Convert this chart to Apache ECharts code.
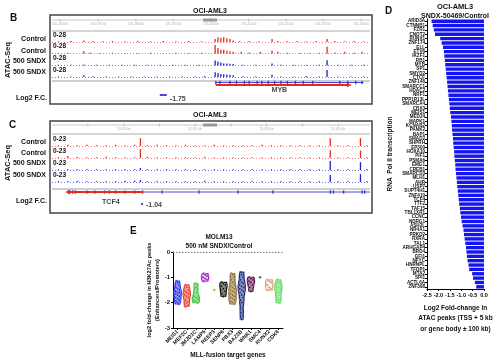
<!DOCTYPE html>
<html><head><meta charset="utf-8">
<script src="https://cdn.jsdelivr.net/npm/echarts@6/dist/echarts.min.js"></script>
<style>html,body{margin:0;padding:0;background:#fff}#c{width:497px;height:360px}</style>
</head><body><div id="c"></div>
<script>
// ================= DATA =================
// Panel B – MYB locus (x = % of browser window, y = signal on 0-28 scale)
const titleB = 'OCI-AML3';
const trackNamesB = ['Control', 'Control', '500 SNDX', '500 SNDX'];
const rangeB = 28;
const rulerPosB = [2.5, 14.5, 26.4, 38.1, 50, 61.9, 73.6, 85.2, 97.2];
const rulerLabB = ['135,160 kb', '135,170 kb', '135,180 kb', '135,190 kb', '135,200 kb', '135,210 kb', '135,220 kb', '135,230 kb', '135,240 kb'];
const ctrl1B = [[2,2],[6,3],[10,5],[13,3],[16,2],[19,3],[23,2],[27,3],[31,2],[35,3],[39,2],[43,3],[47,2],[51.3,9],[52.2,15],[53.1,13],[54,15],[55,12],[56,9],[57,5],[59,3],[62,3],[65,2],[69.2,9],[71,3],[74,2],[77,3],[80,2],[83,3],[86.5,9],[89,3],[92,2],[95,3],[98,2]];
const ctrl2B = [[2,2],[5,3],[10,8],[12,4],[15,2],[19,3],[23,2],[27,2],[31,3],[35,2],[39,3],[43,2],[47,3],[51.3,27],[52.2,18],[53.1,12],[54,12],[55,9],[56,8],[57,6],[59.5,6],[62,4],[65.5,6],[69.2,9],[71,6],[74,3],[78,3],[81,2],[84,3],[86.5,22],[89,4],[92,6],[95,3],[97.5,6]];
const sndx1B = [[2,2],[6,2],[10,3],[14,2],[18,2],[22,2],[26,2],[30,2],[34,2],[38,2],[42,2],[46,2],[51.3,15],[52.2,12],[53.1,9],[54,6],[55,6],[56,5],[57,4],[60,2],[64,2],[69.2,6],[72,2],[76,2],[80,2],[84,2],[86.5,16],[90,2],[94,2],[98,2]];
const sndx2B = [[2,2],[6,2],[10,6],[13,3],[17,2],[21,2],[25,2],[29,2],[33,2],[37,2],[41,2],[45,2],[48,3],[51.3,15],[52.2,13],[53.1,10],[54,9],[55,8],[56,7],[57,6],[60,3],[64,2],[69.2,7],[72,2],[76,2],[80,3],[84,2],[86.5,22],[90,2],[94,2],[98,2]];
const geneNameB = 'MYB';
const geneSpanB = [51.5, 93.5];      // transcript (arrow, + strand)
const geneModelB = [51.5, 98];       // gene model line
const exonsB = [51.5,52.8,56,58,60.5,62,64.5,66,68,70,72,74,76.5,79,82,90.5,93,95.5,97.5];
const geneLabelPosB = 71.5;
const fcB = {pos: 35, value: '-1.75'};

// Panel C – TCF4 locus (y on 0-23 scale)
const titleC = 'OCI-AML3';
const trackNamesC = ['Control', 'Control', '500 SNDX', '500 SNDX'];
const rangeC = 23;
const rulerPosC = [11.3, 22.6, 33.8, 45, 56.3, 67.5, 78.8, 90];
const rulerLabC = ['', '55,240 kb', '', '55,260 kb', '', '55,280 kb', '', '55,300 kb'];
const ctrl1C = [[2,2],[5,3],[8,2],[11,3],[14,2],[17,2],[20,3],[23,2],[26,3],[27.8,20],[30,2],[33,3],[36,2],[39,2],[42,3],[45,2],[48,2],[51,3],[54,2],[57,2],[60,2],[63,2],[66,3],[69,2],[72,2],[75,2],[78,2],[81,2],[84,2],[87.5,20],[90,2],[93,2],[97,20],[99,2]];
const ctrl2C = [[2,2],[5,5],[8,3],[11,2],[14,2],[17,3],[20,2],[23,2],[26,2],[27.8,23],[30,3],[33,2],[36,2],[39,2],[42,2],[45,2],[48,3],[51,2],[54,2],[57,2],[60,2],[63,2],[66,2],[69,2],[72,2],[75,2],[78,2],[81,2],[84,2],[87.5,20],[90,2],[93,2],[97,19],[99,2]];
const sndx1C = [[2,2],[5,2],[8,2],[11,2],[14,2],[17,2],[20,2],[23,2],[26,2],[27.8,5],[30,2],[33,2],[36,2],[39,2],[42,2],[45,2],[48,2],[51,2],[54,2],[57,2],[60,2],[63,2],[66,2],[69,2],[72,2],[75,2],[78,2],[81,2],[84,2],[87.5,23],[90,2],[93,2],[97,20],[99,2]];
const sndx2C = [[2,2],[5,2],[8,3],[11,2],[14,2],[17,2],[20,2],[23,3],[26,3],[27.8,5],[30,2],[33,2],[36,2],[39,2],[42,2],[45,2],[48,3],[51,2],[54,2],[57,2],[60,2],[63,2],[66,2],[69,2],[72,2],[75,2],[78,2],[81,2],[84,2],[87.5,18],[90,2],[93,2],[97,20],[99,2]];
const geneNameC = 'TCF4';
const geneSpanC = [5, 28.6];         // transcript (arrow, - strand)
const geneModelC = [5, 100];
const exonsC = [5,5.5,6.5,7.3,11,13.5,16.5,18,20,23,26,28.5,34.6,46.2,58.5,69.5,87.5,88.5,91.7,97.5,98.3];
const geneLabelPosC = 18.5;
const fcC = {pos: 28.3, value: '-1.04'};

// Panel D – log2 FC of ATAC peaks, RNA Pol II transcription genes
const titleD1 = 'OCI-AML3';
const titleD2 = 'SNDX-50469/Control';
const genesD = ['ARID3A','CTNNB1','FZR1','CNOT2','RUNX1','ZNF174','ELL','ETV6','IKZF1','RB1','MYB','SP1','SMYD2','CTCF','ZNF148','SMARCC1','HDAC2','NRF1','PPP1R13L','SMARCA4','CBX3','MEIS1','MED24','MAPK1','KCNAB2','PANK2','BAP1','SMAD2','SHPRH','EP300','HOXA10','PIF1','PSMA6','EMG1','CREB1','SMARCD3','MLH1','AHR','USP7','SUPT4H1','ZNF410','TCF4','TTF2','TAF15','TBL1XR1','CCNC','NDRG1','ASH2L','NR4A1','PRKD2','RXRA','TAL1','ARHGAP4','BRD4','GFI1','NFYC','HNRNPL','TFDP1','MTA2','SPI1','ACTL6A','ZNF398'];
const valuesD = [-2.30,-2.25,-2.20,-2.15,-1.92,-1.86,-1.80,-1.76,-1.74,-1.72,-1.70,-1.68,-1.66,-1.64,-1.62,-1.60,-1.58,-1.56,-1.54,-1.52,-1.50,-1.48,-1.45,-1.43,-1.41,-1.40,-1.38,-1.36,-1.35,-1.33,-1.31,-1.30,-1.28,-1.26,-1.25,-1.23,-1.21,-1.19,-1.17,-1.15,-1.13,-1.11,-1.09,-1.06,-1.04,-1.01,-0.98,-0.94,-0.90,-0.88,-0.85,-0.82,-0.79,-0.77,-0.75,-0.72,-0.68,-0.65,-0.52,-0.48,-0.40,-0.34];

// Panel E – MOLM13 violins
const titleE1 = 'MOLM13';
const titleE2 = '500 nM SNDX/Control';
const genesE = ['MEIS1','MEF2C','JMJD1C','LAMP5','REEP3','SENP6','PBX3','BAZ2B','WNK1','SMC4','RUNX2','CDK6'];
const colorsE = ['#1f2de8','#e8392a','#3bc43b','#a020c8','#f08a24','#111111','#8b6a2e','#1a2a7a','#5a1048','#1a6a3a','#e69a7a','#5fd85f'];
const meis1E = [-1.15,-1.2,-1.3,-1.4,-1.45,-1.5,-1.55,-1.6,-1.6,-1.65,-1.7,-1.75,-1.8,-1.85,-1.9,-1.95,-2.0,-2.05];
const mef2cE = [-1.3,-1.4,-1.5,-1.55,-1.6,-1.65,-1.7,-1.75,-1.8,-1.9,-2.0,-2.1,-2.15];
const jmjd1cE = [-1.25,-1.4,-1.6,-1.75,-1.8,-1.85,-1.9,-1.95,-2.0];
const lamp5E = [-0.85,-0.9,-0.95,-1.0,-1.05,-1.1,-1.15];
const reep3E = [-1.5];
const senp6E = [-1.2,-1.25,-1.3,-1.35,-1.45,-1.55,-1.65,-1.75];
const pbx3E = [-0.85,-0.9,-1.0,-1.1,-1.2,-1.3,-1.35,-1.4,-1.45,-1.5,-1.55,-1.6,-1.65,-1.7,-1.75,-1.8,-1.85,-1.9,-1.95,-2.0,-2.05];
const baz2bE = [-0.8,-0.9,-1.0,-1.1,-1.2,-1.25,-1.3,-1.35,-1.4,-1.45,-1.5,-1.55,-1.6,-1.7,-1.8,-1.9,-2.0,-2.2,-2.4,-2.65];
const wnk1E = [-1.0,-1.05,-1.1,-1.15,-1.2,-1.3,-1.4,-1.55];
const smc4E = [-1.0];
const runx2E = [-1.1,-1.15,-1.2,-1.3,-1.4,-1.45,-1.5];
const cdk6E = [-1.1,-1.2,-1.3,-1.35,-1.4,-1.45,-1.5,-1.6,-1.7,-1.8,-1.9,-2.0];
const valuesE = [meis1E, mef2cE, jmjd1cE, lamp5E, reep3E, senp6E, pbx3E, baz2bE, wnk1E, smc4E, runx2E, cdk6E];
const hollowE = [false,false,false,true,false,false,false,false,false,false,true,false];

// ================= BUILD =================
const FF = '"Liberation Sans", Arial, sans-serif';
const RED = '#e8281e', BLUE = '#1c1cd0';
const grids = [], xAxes = [], yAxes = [], series = [], graphics = [];
function addGrid(g, xa, ya) {
  grids.push(g); const i = grids.length - 1;
  xAxes.push(Object.assign({gridIndex: i}, xa));
  yAxes.push(Object.assign({gridIndex: i}, ya));
  return i;
}
const hid = (min, max) => ({type: 'value', min, max, show: false});
function txt(x, y, text, size, opts) {
  opts = opts || {};
  graphics.push({type: 'text', x, y, rotation: opts.rot || 0, silent: true, style: {
    text, font: (opts.weight || 'bold') + ' ' + size + 'px ' + FF, fill: opts.color || '#111',
    textAlign: opts.align || 'left', align: opts.align || 'left',
    textVerticalAlign: 'middle', verticalAlign: 'middle'}});
}
function line(x1, y1, x2, y2, color, w) {
  graphics.push({type: 'line', silent: true, shape: {x1, y1, x2, y2}, style: {stroke: color, lineWidth: w}});
}

function browserPanel(cfg) {
  const L = 52, Wd = 318;
  graphics.push({type: 'rect', silent: true, shape: {x: 50, y: cfg.frameTop, width: 322, height: cfg.frameH},
    style: {fill: 'none', stroke: '#444', lineWidth: 1.5}});
  line(L, cfg.rulerY, L + Wd, cfg.rulerY, '#c8c8c8', 1);
  graphics.push({type: 'rect', silent: true, shape: {x: 203, y: cfg.rulerY - 1.5, width: 14, height: 3}, style: {fill: '#999'}});
  line(L, cfg.sepY, L + Wd, cfg.sepY, '#aaa', 1);
  graphics.push({type: 'rect', silent: true, shape: {x: L, y: cfg.bandY, width: Wd, height: 2}, style: {fill: '#cfcfcf'}});
  const rg = addGrid({left: L, width: Wd, top: cfg.rulerY, height: 6}, hid(0, 100), hid(0, 1));
  series.push({type: 'scatter', xAxisIndex: rg, yAxisIndex: rg, silent: true, animation: false,
    symbol: 'rect', symbolSize: [0.6, 3], itemStyle: {color: '#999'},
    data: cfg.rulerPos.map((p, i) => ({value: [p, 1], name: cfg.rulerLab[i]})),
    label: {show: true, position: 'bottom', distance: 1, formatter: '{b}', fontSize: 3.2, color: '#999', fontFamily: FF}});
  cfg.tracks.forEach((tr, i) => {
    const top = cfg.trackTops[i];
    const gi = addGrid({left: L, width: Wd, top, height: 9}, hid(0, 100), hid(0, cfg.range));
    series.push({type: 'bar', xAxisIndex: gi, yAxisIndex: gi, data: tr.data, barWidth: 1.3,
      itemStyle: {color: tr.color}, silent: true, animation: false,
      markLine: {silent: true, symbol: 'none', label: {show: false}, animation: false,
        lineStyle: {color: tr.color, type: [1, 2], width: 1, opacity: 0.6}, data: [{yAxis: 0.6}]}});
    txt(53, top + 2, '0-' + cfg.range, 6.5);
    txt(46, cfg.labelYs[i], tr.name, 7, {align: 'right'});
  });
  const gg = addGrid({left: L, width: Wd, top: cfg.geneTop, height: 10}, hid(0, 100), hid(0, 10));
  series.push({type: 'line', xAxisIndex: gg, yAxisIndex: gg, silent: true, animation: false, symbol: 'none',
    lineStyle: {color: BLUE, width: 1, opacity: 0.8}, data: [[cfg.geneModel[0], cfg.modelY], [cfg.geneModel[1], cfg.modelY]]});
  series.push({type: 'scatter', xAxisIndex: gg, yAxisIndex: gg, silent: true, animation: false,
    symbol: 'rect', symbolSize: [1.3, 3.5], itemStyle: {color: BLUE}, data: cfg.exons.map(p => [p, cfg.modelY])});
  series.push({type: 'line', xAxisIndex: gg, yAxisIndex: gg, silent: true, animation: false, symbol: 'none',
    lineStyle: {color: RED, width: 2}, data: [[cfg.geneSpan[0], cfg.spanY], [cfg.geneSpan[1], cfg.spanY]]});
  const arrowAt = cfg.strand > 0 ? cfg.geneSpan[1] : cfg.geneSpan[0];
  series.push({type: 'scatter', xAxisIndex: gg, yAxisIndex: gg, silent: true, animation: false,
    symbol: 'triangle', symbolRotate: cfg.strand > 0 ? -90 : 90, symbolSize: [5, 5], itemStyle: {color: RED},
    data: [[arrowAt, cfg.spanY]]});
  const fg = addGrid({left: L, width: Wd, top: cfg.fcTop, height: 10}, hid(0, 100), hid(0, 10));
  series.push({type: 'scatter', xAxisIndex: fg, yAxisIndex: fg, silent: true, animation: false, symbolSize: 0,
    data: [{value: [cfg.geneLabelPos, cfg.geneLabelY], name: cfg.geneName}],
    label: {show: true, position: 'inside', formatter: '{b}', fontSize: 7, fontWeight: 'bold', color: '#111', fontFamily: FF}});
  series.push({type: 'scatter', xAxisIndex: fg, yAxisIndex: fg, silent: true, animation: false,
    symbol: 'rect', symbolSize: cfg.fcSize, itemStyle: {color: BLUE},
    data: [{value: [cfg.fc.pos, cfg.fcY], name: cfg.fc.value}],
    label: {show: true, position: 'right', distance: 3, offset: [0, cfg.fcLabelDy], formatter: '{b}', fontSize: 7, fontWeight: 'bold', color: '#111', fontFamily: FF}});
  txt(47, cfg.log2Y, 'Log2 F.C.', 7, {align: 'right'});
  txt(8, cfg.atacY, 'ATAC-Seq', 7.5, {align: 'center', rot: Math.PI / 2});
  txt(210, cfg.titleY, cfg.title, 7, {align: 'center'});
  txt(cfg.letterX, cfg.letterY, cfg.letter, 10);
}

browserPanel({
  letter: 'B', letterX: 10, letterY: 18, title: titleB, titleY: 11,
  frameTop: 15, frameH: 89, rulerY: 20, sepY: 31, bandY: 80,
  rulerPos: rulerPosB, rulerLab: rulerLabB, range: rangeB,
  tracks: [{name: trackNamesB[0], data: ctrl1B, color: RED}, {name: trackNamesB[1], data: ctrl2B, color: RED},
           {name: trackNamesB[2], data: sndx1B, color: BLUE}, {name: trackNamesB[3], data: sndx2B, color: BLUE}],
  trackTops: [33, 44.7, 56.4, 68.1], labelYs: [39, 50.7, 61.5, 72],
  geneTop: 80, geneModel: geneModelB, exons: exonsB, modelY: 7.5, geneSpan: geneSpanB, spanY: 5, strand: 1,
  fcTop: 85, geneName: geneNameB, geneLabelPos: geneLabelPosB, geneLabelY: 5,
  fc: fcB, fcY: 0, fcSize: [7, 2], fcLabelDy: 4, log2Y: 98, atacY: 60
});
browserPanel({
  letter: 'C', letterX: 9, letterY: 125, title: titleC, titleY: 115,
  frameTop: 121, frameH: 92, rulerY: 125, sepY: 134, bandY: 188,
  rulerPos: rulerPosC, rulerLab: rulerLabC, range: rangeC,
  tracks: [{name: trackNamesC[0], data: ctrl1C, color: RED}, {name: trackNamesC[1], data: ctrl2C, color: RED},
           {name: trackNamesC[2], data: sndx1C, color: BLUE}, {name: trackNamesC[3], data: sndx2C, color: BLUE}],
  trackTops: [137, 149, 161, 173], labelYs: [142, 153, 163.5, 175.5],
  geneTop: 187, geneModel: geneModelC, exons: exonsC, modelY: 5, geneSpan: geneSpanC, spanY: 5, strand: -1,
  fcTop: 197, geneName: geneNameC, geneLabelPos: geneLabelPosC, geneLabelY: 5,
  fc: fcC, fcY: 3, fcSize: [2, 2], fcLabelDy: 1, log2Y: 201, atacY: 163
});

// ---- Panel D ----
const gD = addGrid({left: 427, top: 19, width: 57, height: 270},
  {type: 'value', min: -2.5, max: 0, interval: 0.5,
   axisLine: {show: true, onZero: false, lineStyle: {color: '#000', width: 1}},
   axisTick: {show: true, length: 2, lineStyle: {color: '#000'}}, splitLine: {show: false},
   axisLabel: {fontSize: 5.5, fontWeight: 'bold', color: '#000', margin: 3, fontFamily: FF, formatter: v => v.toFixed(1)},
   name: 'Log2 Fold-change in\nATAC peaks (TSS + 5 kb\nor gene body \u00b1 100 kb)', nameLocation: 'middle', nameGap: 12,
   nameTextStyle: {fontSize: 6.5, fontWeight: 'bold', color: '#111', lineHeight: 10.5, fontFamily: FF, verticalAlign: 'top'}},
  {type: 'category', data: genesD, inverse: true,
   axisLine: {show: true, onZero: false, lineStyle: {color: '#000', width: 1}},
   axisTick: {show: true, length: 2, alignWithLabel: true, lineStyle: {color: '#000'}},
   axisLabel: {interval: 0, fontSize: 4.6, fontWeight: 'bold', color: '#111', margin: 2, fontFamily: FF},
   name: 'RNA  Pol II transcription', nameLocation: 'middle', nameGap: 33, nameRotate: 90,
   nameTextStyle: {fontSize: 6.5, fontWeight: 'bold', color: '#111', fontFamily: FF}});
series.push({type: 'bar', xAxisIndex: gD, yAxisIndex: gD, data: valuesD, barCategoryGap: '22%',
  itemStyle: {color: '#1414f0'}, silent: true, animation: false});
txt(455, 7, titleD1, 7.5, {align: 'center'});
txt(455, 16, titleD2, 7, {align: 'center'});
txt(385, 11, 'D', 10);

// ---- Panel E ----
const gE = addGrid({left: 173, top: 252, width: 110, height: 76},
  {type: 'category', data: genesE,
   axisLine: {show: true, onZero: false, lineStyle: {color: '#000', width: 1}},
   axisTick: {show: true, length: 2, alignWithLabel: true, lineStyle: {color: '#000'}},
   axisLabel: {interval: 0, rotate: 45, fontSize: 5.3, fontWeight: 'bold', color: '#111', margin: 3, fontFamily: FF},
   name: 'MLL-fusion target genes', nameLocation: 'middle', nameGap: 24,
   nameTextStyle: {fontSize: 6.5, fontWeight: 'bold', color: '#111', fontFamily: FF}},
  {type: 'value', min: -3, max: 0, interval: 1,
   axisLine: {show: true, onZero: false, lineStyle: {color: '#000', width: 1}},
   axisTick: {show: true, length: 2, lineStyle: {color: '#000'}}, splitLine: {show: false},
   axisLabel: {fontSize: 6, fontWeight: 'bold', color: '#111', margin: 3, fontFamily: FF},
   name: 'log2 fold-change in H3K27Ac peaks\n(Enhancers/Promoters)', nameLocation: 'middle', nameGap: 11, nameRotate: 90,
   nameTextStyle: {fontSize: 5.6, fontWeight: 'bold', color: '#111', lineHeight: 7.5, fontFamily: FF}});
function renderViolin(params, api) {
  const idx = api.value(0);
  const pts = valuesE[idx], color = colorsE[idx];
  const cx = api.coord([idx, 0])[0];
  const children = [];
  let widthAt = () => 0;
  if (pts.length > 1) {
    const mn = Math.min(...pts), mx = Math.max(...pts), h = 0.12, N = 40, halfW = 3.6;
    const dens = [];
    for (let k = 0; k <= N; k++) {
      const y = mn + (mx - mn) * k / N; let d = 0;
      pts.forEach(p => { const z = (y - p) / h; d += Math.exp(-0.5 * z * z); });
      dens.push([y, d]);
    }
    const dmax = Math.max(...dens.map(d => d[1]));
    const right = [], left = [];
    dens.forEach(([y, d]) => {
      const py = api.coord([idx, y])[1]; const w = halfW * (0.25 + 0.75 * d / dmax);
      right.push([cx + w, py]); left.unshift([cx - w, py]);
    });
    widthAt = v => { let best = dens[0]; dens.forEach(d => { if (Math.abs(d[0] - v) < Math.abs(best[0] - v)) best = d; }); return halfW * (0.25 + 0.75 * best[1] / dmax); };
    children.push({type: 'polygon', shape: {points: right.concat(left)},
      style: {fill: hollowE[idx] ? '#fff' : echarts.color.modifyAlpha(color, 0.55), stroke: color, lineWidth: 1.3}});
  }
  pts.forEach((p, i) => {
    const c = api.coord([idx, p]);
    const off = ((i % 3) - 1) * widthAt(p) * 0.55;
    children.push({type: 'circle', shape: {cx: c[0] + off, cy: c[1], r: 1.3},
      style: {fill: color, stroke: '#fff', lineWidth: 0.3}});
  });
  return {type: 'group', children};
}
series.push({type: 'custom', xAxisIndex: gE, yAxisIndex: gE, renderItem: renderViolin, silent: true, animation: false,
  data: genesE.map((g, i) => [i]), encode: {x: 0}, clip: false,
  markLine: {silent: true, symbol: 'none', label: {show: false}, animation: false,
    lineStyle: {color: '#777', type: [1.5, 1.5], width: 1}, data: [{yAxis: 0}]}});
txt(219, 237, titleE1, 6.5, {align: 'center'});
txt(219, 246, titleE2, 6.5, {align: 'center'});
txt(130, 231, 'E', 10);

const chart = echarts.init(document.getElementById('c'), null, {renderer: 'canvas'});
chart.setOption({animation: false, grid: grids, xAxis: xAxes, yAxis: yAxes, series, graphic: graphics});
</script></body></html>
